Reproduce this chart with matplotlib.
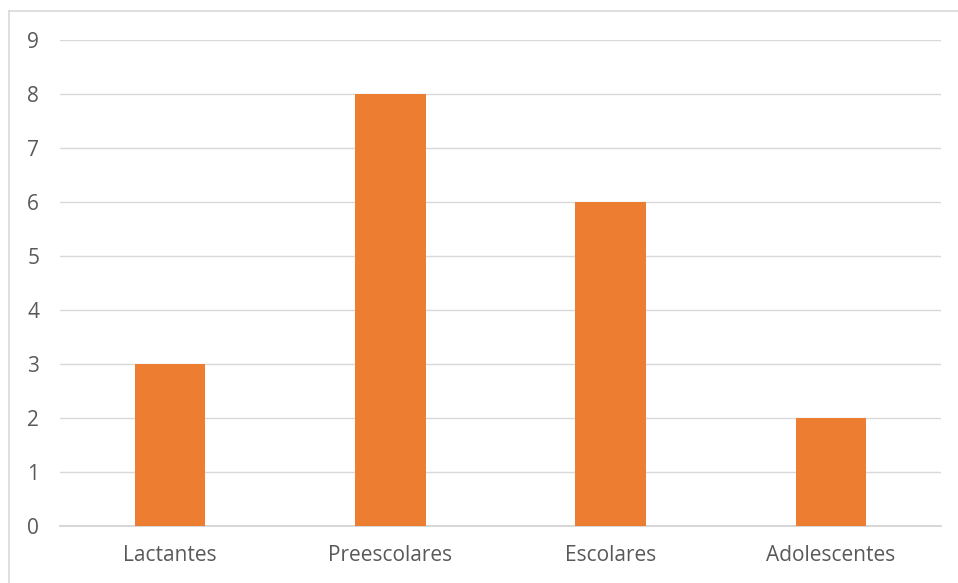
import matplotlib.pyplot as plt
from matplotlib.lines import Line2D

categorias = ['Lactantes', 'Preescolares', 'Escolares', 'Adolescentes']
valores = [3, 8, 6, 2]

plt.rcParams['font.family'] = ['Open Sans', 'DejaVu Sans']

fig = plt.figure(figsize=(9.58, 5.83), dpi=100)
ax = fig.add_axes([60 / 958, 1 - 526 / 583, 881 / 958, 486 / 583])

ax.bar(range(len(categorias)), valores, width=0.32, color='#ED7D31', zorder=3)

ax.set_xlim(-0.5, len(categorias) - 0.5)
ax.set_ylim(0, 9)
ax.set_yticks(range(10))
ax.set_xticks(range(len(categorias)))
ax.set_xticklabels(categorias)

ax.grid(axis='y', color='#D9D9D9', linewidth=1.0, zorder=0)
for s in ['left', 'right', 'top']:
    ax.spines[s].set_visible(False)
ax.spines['bottom'].set_color('#D0D0D0')
ax.spines['bottom'].set_linewidth(1.2)
ax.tick_params(axis='both', length=0, labelsize=15, colors='#595959')
ax.tick_params(axis='y', pad=15)
ax.tick_params(axis='x', pad=14)

# borde del gráfico (solo izquierda y arriba quedan visibles)
x0, y0 = 8.5 / 958, 1 - 10.5 / 583
fig.lines.append(Line2D([x0, x0], [0, y0], transform=fig.transFigure, color='#D9D9D9', linewidth=1.2))
fig.lines.append(Line2D([x0, 1], [y0, y0], transform=fig.transFigure, color='#D9D9D9', linewidth=1.2))

fig.savefig('out.png', dpi=100)
